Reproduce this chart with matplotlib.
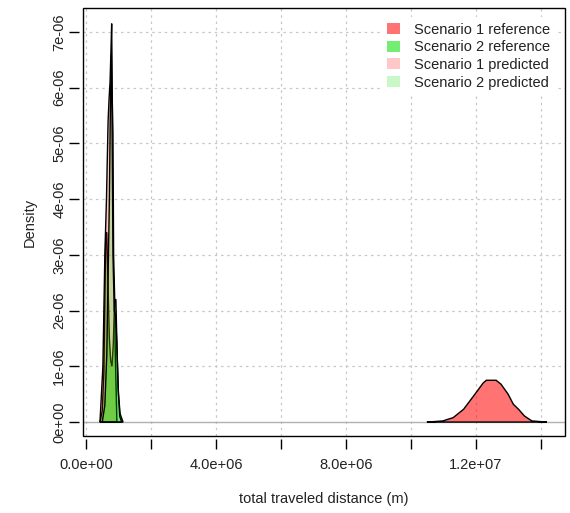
import matplotlib
matplotlib.use("Agg")
import matplotlib.pyplot as plt
from matplotlib.patches import Rectangle, Patch

plt.rcParams['font.family'] = ['Liberation Sans', 'DejaVu Sans']

# Density curves (x in metres, y in density)
s1_ref_x = [10.49e6, 10.98e6, 11.30e6, 11.62e6, 11.93e6, 12.22e6, 12.32e6, 12.62e6, 12.77e6, 12.99e6, 13.15e6, 13.31e6, 13.49e6, 13.72e6, 14.18e6]
s1_ref_y = [0.0, 0.02e-6, 0.08e-6, 0.23e-6, 0.47e-6, 0.70e-6, 0.75e-6, 0.75e-6, 0.68e-6, 0.50e-6, 0.32e-6, 0.23e-6, 0.11e-6, 0.02e-6, 0.0]

s2_ref_x = [0.43e6, 0.50e6, 0.55e6, 0.58e6, 0.61e6, 0.64e6, 0.68e6, 0.72e6, 0.76e6, 0.80e6, 0.84e6, 0.88e6, 0.92e6, 0.96e6, 1.00e6, 1.05e6, 1.14e6]
s2_ref_y = [0.0, 0.2e-6, 0.9e-6, 2.2e-6, 3.4e-6, 3.4e-6, 2.4e-6, 1.5e-6, 1.1e-6, 1.0e-6, 1.4e-6, 2.2e-6, 2.2e-6, 1.2e-6, 0.5e-6, 0.15e-6, 0.0]

s1_pred_x = [0.43e6, 0.52e6, 0.58e6, 0.63e6, 0.68e6, 0.71e6, 0.74e6, 0.77e6, 0.79e6, 0.80e6, 0.81e6, 0.83e6, 0.85e6, 0.88e6, 0.90e6, 0.95e6]
s1_pred_y = [0.0, 1.0e-6, 3.0e-6, 4.0e-6, 5.4e-6, 5.8e-6, 6.1e-6, 6.7e-6, 7.15e-6, 6.5e-6, 5.75e-6, 5.2e-6, 3.0e-6, 2.3e-6, 1.3e-6, 0.0]

s2_pred_x = [0.50e6, 0.58e6, 0.64e6, 0.68e6, 0.72e6, 0.75e6, 0.78e6, 0.80e6, 0.83e6, 0.87e6, 0.91e6, 0.95e6, 0.99e6, 1.04e6, 1.10e6]
s2_pred_y = [0.0, 0.3e-6, 1.2e-6, 2.6e-6, 4.0e-6, 5.6e-6, 6.6e-6, 5.6e-6, 3.0e-6, 2.0e-6, 1.9e-6, 1.4e-6, 0.6e-6, 0.1e-6, 0.0]

labels = ['Scenario 1 reference', 'Scenario 2 reference', 'Scenario 1 predicted', 'Scenario 2 predicted']
fills = [(1, 0, 0, 0.55), (0, 0.92, 0, 0.55), (1, 0, 0, 0.22), (0, 1, 0, 0.22)]
legend_colors = ['#FF7373', '#73EE73', '#FFC8C8', '#C8F7C8']

x_ticks = [0, 2e6, 4e6, 6e6, 8e6, 10e6, 12e6, 14e6]
x_ticklabels = ['0.0e+00', '', '4.0e+06', '', '8.0e+06', '', '1.2e+07', '']
y_ticks = [0, 1e-6, 2e-6, 3e-6, 4e-6, 5e-6, 6e-6, 7e-6]
y_ticklabels = ['0e+00', '1e-06', '2e-06', '3e-06', '4e-06', '5e-06', '6e-06', '7e-06']

W, H = 570, 513
fig = plt.figure(figsize=(W / 100, H / 100), dpi=100)
ax = fig.add_axes([83 / W, (H - 436) / H, (565 - 83) / W, (436 - 8) / H])

ax.set_xlim(-0.092e6, 14.74e6)
ax.set_ylim(-0.25e-6, 7.43e-6)

# grid
for xv in x_ticks:
    ax.axvline(xv, color='#C8C8C8', lw=0.9, ls=(0, (2, 3)), zorder=0)
for yv in y_ticks[1:]:
    ax.axhline(yv, color='#C8C8C8', lw=0.9, ls=(0, (2, 3)), zorder=0)
ax.axhline(0, color='#B0B0B0', lw=1.0, zorder=1)

series = [(s1_ref_x, s1_ref_y), (s2_ref_x, s2_ref_y), (s1_pred_x, s1_pred_y), (s2_pred_x, s2_pred_y)]
for (xs, ys), fc in zip(series, fills):
    ax.fill(xs, ys, facecolor=fc, edgecolor='black', lw=1.0, zorder=2)

# box and axes styling
for sp in ax.spines.values():
    sp.set_color('none')
ax.spines['left'].set_position(('outward', 3))
ax.spines['bottom'].set_position(('outward', 2))
ax.add_patch(Rectangle((0, 0), 1, 1, transform=ax.transAxes, fill=False, ec='black', lw=1.0, clip_on=False, zorder=5))

ax.set_xticks(x_ticks)
ax.set_xticklabels(x_ticklabels)
ax.set_yticks(y_ticks)
ax.set_yticklabels(y_ticklabels, rotation=90, va='center')
ax.tick_params(axis='both', length=7.5, width=1, color='black', labelsize=10.5, labelcolor='#222222')
ax.tick_params(axis='x', pad=6)
ax.tick_params(axis='y', pad=1.5)

ax.set_xlabel('total traveled distance (m)', fontsize=10.5, color='#222222', labelpad=15)
ax.set_ylabel('Density', fontsize=10.5, color='#222222', labelpad=11)

handles = [Patch(facecolor=c, edgecolor='none') for c in legend_colors]
leg = ax.legend(handles, labels, loc='upper right', frameon=True, fontsize=10.5,
                handlelength=0.9, handleheight=0.8, handletextpad=1.0, labelspacing=0.25,
                borderaxespad=0.6, fancybox=False)
leg.get_frame().set_edgecolor('none')
leg.get_frame().set_facecolor('white')
leg.get_frame().set_alpha(1)
for t in leg.get_texts():
    t.set_color('#222222')

fig.savefig('out.png', dpi=100)
